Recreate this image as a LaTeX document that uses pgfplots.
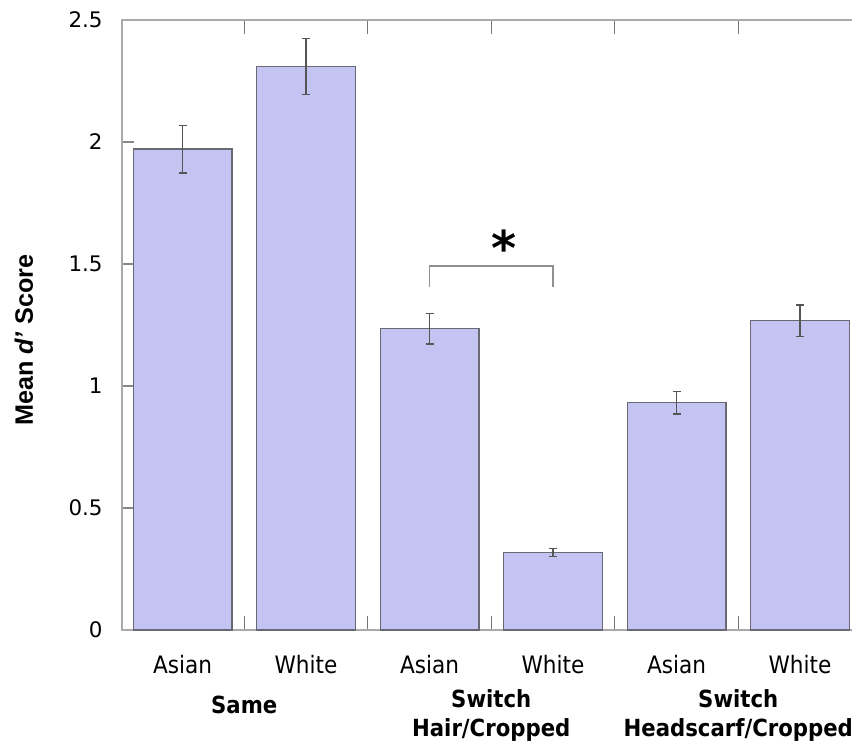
\documentclass[border=0pt]{standalone}
\usepackage{fontspec}
\setmainfont{DejaVu Sans}
\newfontfamily\condfont{DejaVu Sans Condensed}
\newfontfamily\labfont{Liberation Sans}
\usepackage{pgfplots}
\pgfplotsset{compat=1.18}

\definecolor{barfill}{RGB}{196,196,242}
\definecolor{baredge}{RGB}{105,105,115}
\definecolor{errc}{RGB}{85,85,85}
\definecolor{framec}{RGB}{170,170,170}

\begin{document}
\begin{tikzpicture}
\begin{axis}[
  at={(0,0)}, anchor=south west,
  scale only axis, width=370.5pt, height=305pt,
  xmin=-0.49, xmax=5.51, ymin=0, ymax=2.5,
  xtick={0,1,2,3,4,5},
  xticklabels={Asian,White,Asian,White,Asian,White},
  minor xtick={0.5,1.5,2.5,3.5,4.5},
  major x tick style={draw=none},
  minor x tick style={draw=framec!70!black, line width=0.6pt},
  minor tick length=7pt,
  ytick={0,0.5,1,1.5,2,2.5}, ytick pos=left,
  major tick length=6pt,
  y tick style={draw=framec!80!black, line width=0.6pt},
  tick align=inside,
  axis line style={draw=framec, line width=0.65pt},
  /pgf/number format/assume math mode=true,
  xticklabel style={font=\condfont\fontsize{12}{14}\selectfont, anchor=base, yshift=-21.5pt},
  yticklabel style={font=\fontsize{10.7}{12}\selectfont, anchor=east, inner sep=0pt, xshift=-9.5pt},
  ylabel={Mean \textit{d’} Score},
  ylabel style={font=\labfont\bfseries\fontsize{12.6}{14}\selectfont, at={(axis description cs:-0.1323,0.475)}, anchor=center},
  clip=false,
]
\addplot[ybar, bar width=0.8, fill=barfill, draw=baredge, line width=0.6pt,
  error bars/.cd, y dir=both, y explicit,
  error bar style={errc, line width=0.6pt},
  error mark options={errc, rotate=90, mark size=2pt, line width=0.6pt}]
coordinates {
  (0,1.971) +- (0,0.098)
  (1,2.309) +- (0,0.115)
  (2,1.235) +- (0,0.063)
  (3,0.317) +- (0,0.017)
  (4,0.932) +- (0,0.047)
  (5,1.268) +- (0,0.064)
};
\addplot[draw=framec!85!black, line width=0.7pt, mark=none]
coordinates {(2,1.406) (2,1.492) (3,1.492) (3,1.406)};
\node[font=\bfseries\fontsize{24}{24}\selectfont] at (axis cs:2.603,1.568) {*};
\node[font=\condfont\bfseries\fontsize{11.8}{14}\selectfont, anchor=base, yshift=-41.5pt] at (axis cs:0.5,0) {Same};
\node[font=\condfont\bfseries\fontsize{11.8}{14}\selectfont, anchor=base, yshift=-38.5pt] at (axis cs:2.5,0) {Switch};
\node[font=\condfont\bfseries\fontsize{11.8}{14}\selectfont, anchor=base, yshift=-53pt] at (axis cs:2.5,0) {Hair/Cropped};
\node[font=\condfont\bfseries\fontsize{11.8}{14}\selectfont, anchor=base, yshift=-38.5pt] at (axis cs:4.5,0) {Switch};
\node[font=\condfont\bfseries\fontsize{11.8}{14}\selectfont, anchor=base, yshift=-53pt] at (axis cs:4.5,0) {Headscarf/Cropped};
\end{axis}
\pgfresetboundingbox
\useasboundingbox (-61pt,-55.5pt) rectangle (365pt,315pt);
\end{tikzpicture}
\end{document}
